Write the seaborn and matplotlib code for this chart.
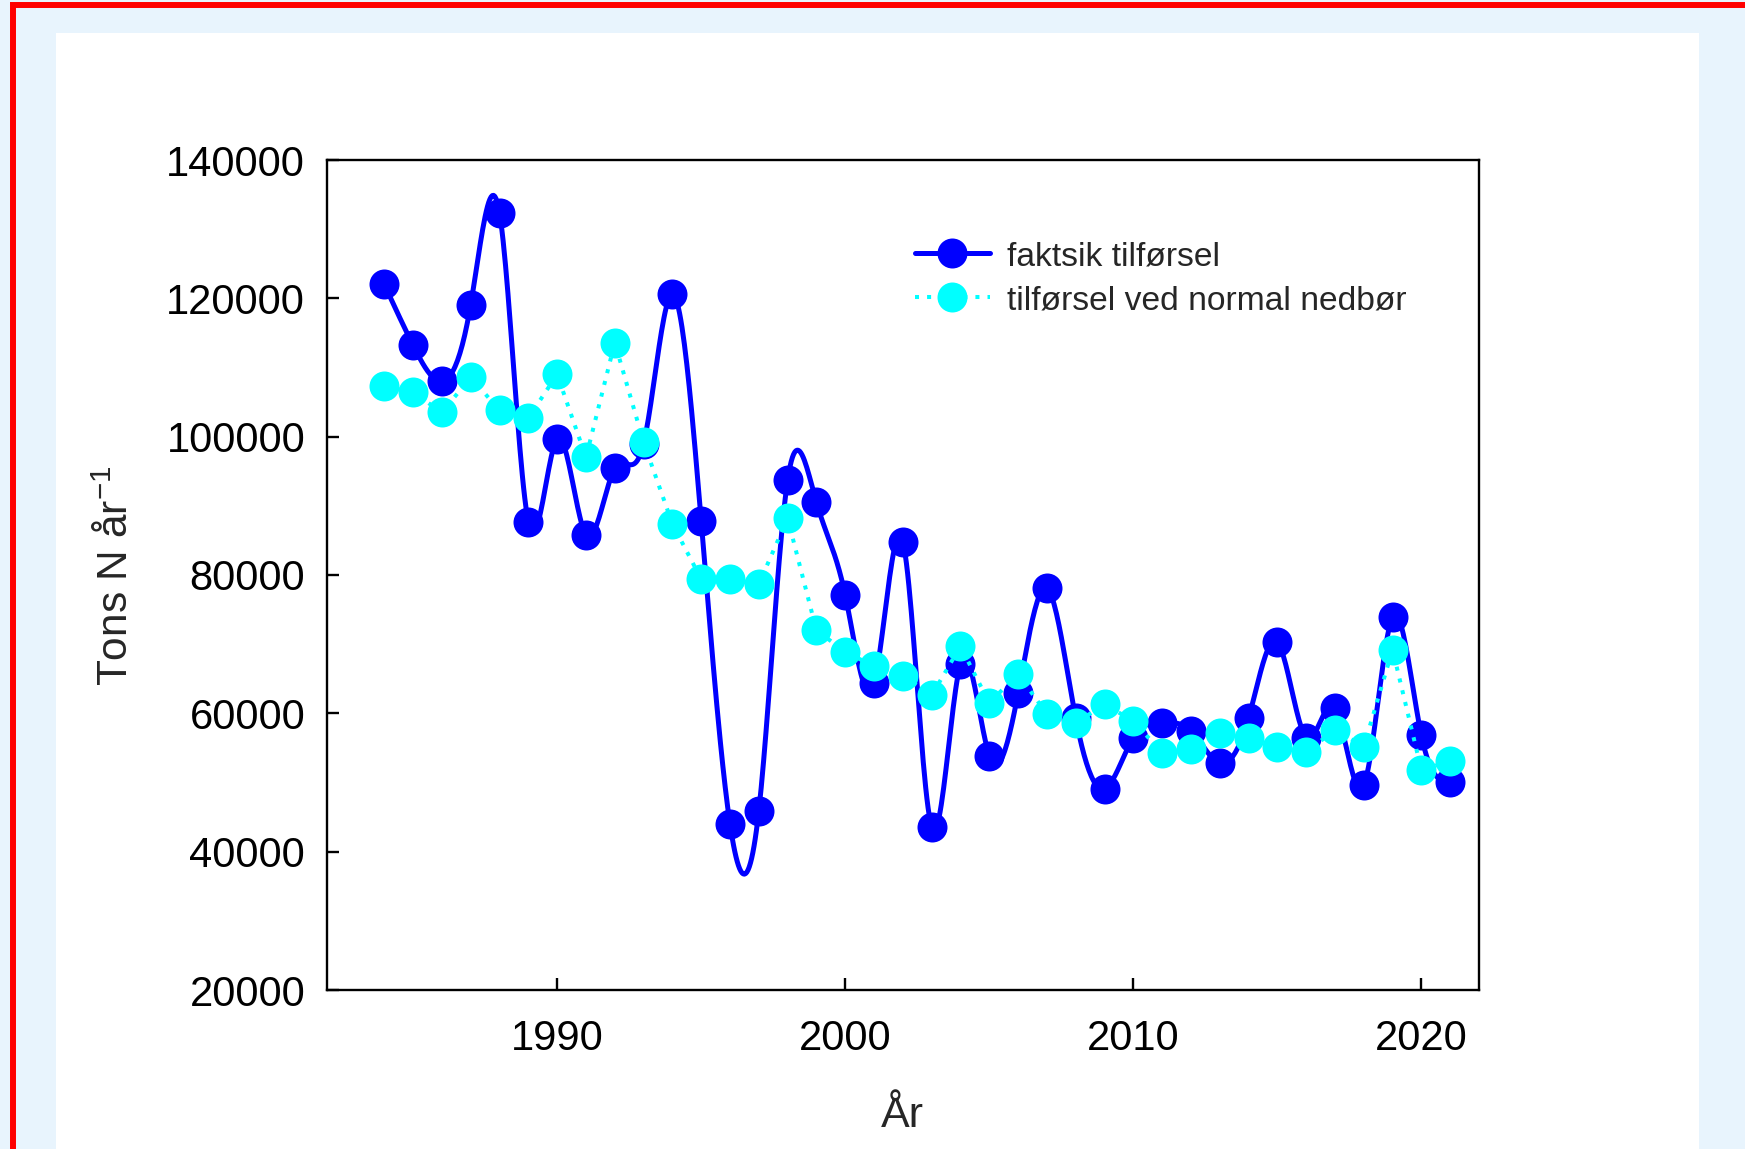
import numpy as np
import pandas as pd
import matplotlib
matplotlib.use("Agg")
import matplotlib.pyplot as plt
from matplotlib.lines import Line2D
from matplotlib.patches import Rectangle
import seaborn as sns

# Annual nitrogen load (tons N per year)
years = list(range(1984, 2022))
faktisk = [122000, 113200, 108000, 119100, 132300, 87700, 99700, 85800, 95400, 99000,
           120600, 87800, 44000, 45900, 93700, 90500, 77100, 64400, 84800, 43600,
           67100, 53900, 62900, 78100, 59300, 49100, 56500, 58600, 57500, 52800,
           59300, 70300, 56500, 60700, 49600, 73900, 56800, 50100]
normal = [107300, 106400, 103500, 108600, 103800, 102700, 109000, 97000, 113600, 99200,
          87400, 79400, 79400, 78700, 88200, 72000, 68900, 66800, 65400, 62600,
          69700, 61500, 65700, 59900, 58600, 61300, 58900, 54300, 54900, 57200,
          56500, 55100, 54400, 57600, 55200, 69200, 51800, 53100]
series_labels = ["faktsik tilførsel", "tilførsel ved normal nedbør"]
xticks = [1990, 2000, 2010, 2020]
yticks = [20000, 40000, 60000, 80000, 100000, 120000, 140000]

BLUE = "#0000FF"
CYAN = "#00FFFF"


def natural_spline(x, y, n=24):
    """Natural cubic spline through the points, sampled densely."""
    x = np.asarray(x, float)
    y = np.asarray(y, float)
    k = len(x)
    h = np.diff(x)
    A = np.zeros((k, k))
    b = np.zeros(k)
    A[0, 0], A[0, 1] = 2 / h[0], 1 / h[0]
    b[0] = 3 * (y[1] - y[0]) / h[0] ** 2
    A[-1, -2], A[-1, -1] = 1 / h[-1], 2 / h[-1]
    b[-1] = 3 * (y[-1] - y[-2]) / h[-1] ** 2
    for i in range(1, k - 1):
        A[i, i - 1] = 1 / h[i - 1]
        A[i, i] = 2 / h[i - 1] + 2 / h[i]
        A[i, i + 1] = 1 / h[i]
        b[i] = 3 * ((y[i] - y[i - 1]) / h[i - 1] ** 2 + (y[i + 1] - y[i]) / h[i] ** 2)
    m = np.linalg.solve(A, b)
    xs, ys = [], []
    for i in range(k - 1):
        t = np.linspace(0, 1, n, endpoint=(i == k - 2))
        h00 = 2 * t**3 - 3 * t**2 + 1
        h10 = t**3 - 2 * t**2 + t
        h01 = -2 * t**3 + 3 * t**2
        h11 = t**3 - t**2
        xs.append(x[i] + t * h[i])
        ys.append(h00 * y[i] + h10 * h[i] * m[i] + h01 * y[i + 1] + h11 * h[i] * m[i + 1])
    return np.concatenate(xs), np.concatenate(ys)


df = pd.DataFrame({"year": years, "faktisk": faktisk, "normal": normal})
sx, sy = natural_spline(df["year"], df["faktisk"])
curve = pd.DataFrame({"year": sx, "value": sy})

sns.set_style("ticks")
plt.rcParams["font.family"] = ["Liberation Sans", "DejaVu Sans"]

W, H = 1745, 1149
fig = plt.figure(figsize=(W / 100, H / 100), dpi=100)
fig.patch.set_facecolor("#E8F4FD")

# white panel and red frame
fig.add_artist(Rectangle((56 / W, 0), (1699 - 56) / W, (H - 33) / H,
                         transform=fig.transFigure, facecolor="white",
                         edgecolor="none", zorder=0))
fig.add_artist(Rectangle((13 / W, -0.05), 1.2, 1.05 - 4.5 / H,
                         transform=fig.transFigure, facecolor="none",
                         edgecolor="#FF0000", linewidth=4.3, zorder=1))

ax = fig.add_axes([326.7 / W, 1 - 990 / H, (1479 - 326.7) / W, (990 - 160) / H])
ax.set_facecolor("white")

sns.lineplot(data=curve, x="year", y="value", ax=ax, color=BLUE, linewidth=3.6,
             sort=False, estimator=None, zorder=2)
sns.scatterplot(data=df, x="year", y="faktisk", ax=ax, color=BLUE, s=21.6**2,
                linewidth=0, zorder=3)
sns.lineplot(data=df, x="year", y="normal", ax=ax, color=CYAN, linewidth=2.9,
             linestyle=(0, (1, 2)), estimator=None, zorder=4)
sns.scatterplot(data=df, x="year", y="normal", ax=ax, color=CYAN, s=21.6**2,
                linewidth=0, zorder=5)

ax.set_xlim(1982, 2022)
ax.set_ylim(20000, 140000)
ax.set_xticks(xticks)
ax.set_yticks(yticks)
ax.set_xticklabels([str(v) for v in xticks])
ax.set_yticklabels([str(v) for v in yticks])
for s in ax.spines.values():
    s.set_visible(True)
    s.set_linewidth(1.7)
    s.set_color("black")
ax.tick_params(axis="both", direction="in", length=8.6, width=1.7, labelsize=30,
               colors="black")
ax.tick_params(axis="y", pad=15.5)
ax.tick_params(axis="x", pad=21)

ax.set_xlabel("År", fontsize=31)
ax.set_ylabel(r"Tons N år$^{\mathregular{-1}}$", fontsize=30.5)
ax.xaxis.set_label_coords(0.5, (990 - 1096) / 830)
ax.xaxis.label.set_va("top")
ax.yaxis.set_label_coords((137 - 326.7) / 1153, 0.499)

handles = [
    Line2D([], [], color=BLUE, linewidth=3.6, marker="o", markersize=21.6,
           markeredgewidth=0),
    Line2D([], [], color=CYAN, linewidth=2.9, linestyle=(0, (1, 2)), marker="o",
           markersize=21.6, markeredgewidth=0),
]
fig.legend(handles, series_labels, loc="upper left",
           bbox_to_anchor=(915 / W, 1 - 241 / H), bbox_transform=fig.transFigure,
           frameon=False, fontsize=24.2, handlelength=2.23, handletextpad=0.51,
           labelspacing=0.39, borderpad=0, borderaxespad=0, numpoints=1)

fig.savefig("out.png", dpi=100, facecolor=fig.get_facecolor())
